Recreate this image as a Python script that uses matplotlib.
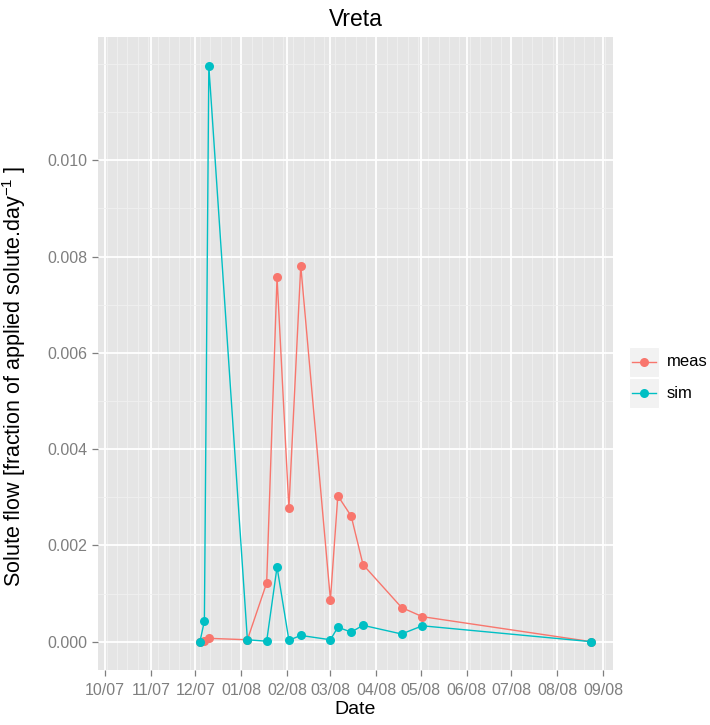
import matplotlib
matplotlib.use("Agg")
import matplotlib.pyplot as plt
import matplotlib.dates as mdates
from matplotlib.patches import Rectangle
from matplotlib.lines import Line2D
from datetime import datetime

plt.rcParams['font.family'] = ['Liberation Sans', 'DejaVu Sans']
plt.rcParams['mathtext.fontset'] = 'custom'
plt.rcParams['mathtext.rm'] = 'Liberation Sans'
plt.rcParams['mathtext.it'] = 'Liberation Sans:italic'
plt.rcParams['mathtext.bf'] = 'Liberation Sans:bold'

# Sampling dates (shared by measured and simulated series)
dates = ['2007-12-04', '2007-12-07', '2007-12-10', '2008-01-05', '2008-01-18',
         '2008-01-25', '2008-02-02', '2008-02-10', '2008-03-01', '2008-03-06',
         '2008-03-15', '2008-03-23', '2008-04-18', '2008-05-02', '2008-08-24']

meas = [0.0, 0.00002, 0.00007, 0.00004, 0.00122, 0.00757, 0.00277, 0.00781,
        0.00087, 0.00303, 0.00261, 0.00160, 0.00071, 0.00052, 0.0]

sim = [0.0, 0.00043, 0.01196, 0.00004, 0.00001, 0.00155, 0.00003, 0.00013,
       0.00004, 0.00030, 0.00020, 0.00034, 0.00016, 0.00033, 0.0]

series_names = ['meas', 'sim']
series_colors = ['#F8766D', '#00BFC4']

y_major = [0.000, 0.002, 0.004, 0.006, 0.008, 0.010]
y_minor = [0.001, 0.003, 0.005, 0.007, 0.009, 0.011, 0.012]

x = [datetime.strptime(d, '%Y-%m-%d') for d in dates]

W, H = 710, 725
fig = plt.figure(figsize=(W / 100, H / 100), dpi=100)
ax = fig.add_axes([98 / W, (H - 670) / H, 515 / W, 633 / H])
ax.set_facecolor('#E5E5E5')
for s in ax.spines.values():
    s.set_visible(False)

for vals, col in zip([meas, sim], series_colors):
    ax.plot(x, vals, color=col, lw=1.0, marker='o', markersize=6.5,
            markeredgewidth=0, zorder=3)

ax.set_xlim(datetime(2007, 9, 26, 6), datetime(2008, 9, 7, 14))
ax.set_ylim(-0.000588, 0.01256)

ax.xaxis.set_major_locator(mdates.MonthLocator())
ax.xaxis.set_major_formatter(mdates.DateFormatter('%m/%y'))
ax.xaxis.set_minor_locator(mdates.WeekdayLocator(byweekday=mdates.TU))
ax.set_yticks(y_major)
ax.set_yticklabels([f'{v:.3f}' for v in y_major])
ax.set_yticks(y_minor, minor=True)

ax.grid(which='minor', color='#F0F0F0', lw=0.6, zorder=0)
ax.grid(which='major', color='white', lw=1.3, zorder=1)
ax.set_axisbelow(True)

ax.tick_params(which='major', length=4.5, width=0.9, color='#7F7F7F',
               labelcolor='#7F7F7F', labelsize=11.5, pad=3)
ax.tick_params(axis='x', which='major', pad=5)
ax.tick_params(which='minor', length=0)

ax.set_xlabel('Date', fontsize=14, labelpad=2)
ax.set_ylabel(r'Solute flow [fraction of applied solute.day$^{-1}$ ]', fontsize=15.5)
ax.yaxis.set_label_coords((28 - 98) / 515, (670 - 376) / 633)

ax.set_title('Vreta', fontsize=16.5, pad=8)

# Legend drawn in figure pixel coordinates
def fx(px):
    return px / W

def fy(py):
    return 1 - py / H

key_tops = [347, 378]
for name, col, top in zip(series_names, series_colors, key_tops):
    fig.add_artist(Rectangle((fx(629), fy(top + 29.5)), 29.5 / W, 29.5 / H,
                             transform=fig.transFigure, facecolor='#F2F2F2',
                             edgecolor='white', lw=0.8))
    cy = fy(top + 15)
    fig.add_artist(Line2D([fx(632), fx(656)], [cy, cy], transform=fig.transFigure,
                          color=col, lw=1.0))
    fig.add_artist(Line2D([fx(644)], [cy], transform=fig.transFigure, color=col,
                          marker='o', markersize=6.5, markeredgewidth=0))
    fig.text(fx(667), cy, name, fontsize=12, va='center', ha='left', color='black')

fig.savefig('out.png', dpi=100)
